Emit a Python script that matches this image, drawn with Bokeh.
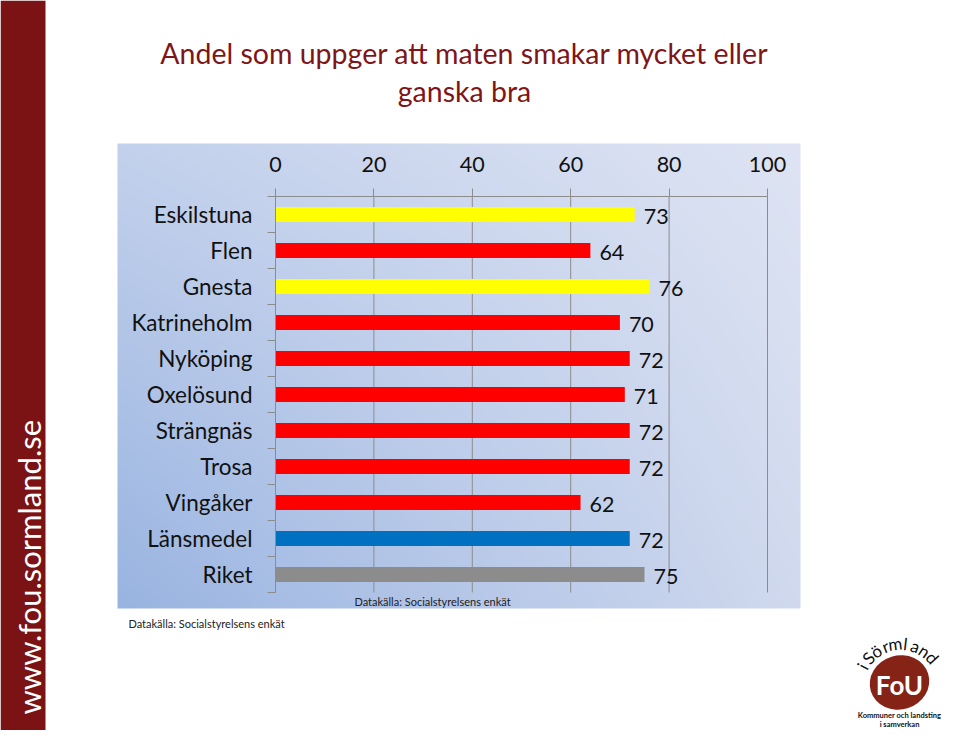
import numpy as np
from bokeh.plotting import figure
from bokeh.models import Range1d, LinearAxis, FixedTicker
from bokeh.core.properties import value
from bokeh.embed import file_html
from bokeh.resources import INLINE

# ---------------- data ----------------
title_lines = ["Andel som uppger att maten smakar mycket eller", "ganska bra"]
categories = ["Eskilstuna", "Flen", "Gnesta", "Katrineholm", "Nyköping", "Oxelösund",
              "Strängnäs", "Trosa", "Vingåker", "Länsmedel", "Riket"]
values = [73, 64, 76, 70, 72, 71, 72, 72, 62, 72, 75]
bar_colors = ["#ffff00", "#ff0000", "#ffff00", "#ff0000", "#ff0000", "#ff0000",
              "#ff0000", "#ff0000", "#ff0000", "#0070c0", "#8c8c8c"]
x_ticks = [0, 20, 40, 60, 80, 100]
source_note = "Datakälla: Socialstyrelsens enkät"
site_url = "www.fou.sormland.se"
logo_arc_text = "iSörmland"
logo_main = "FoU"
logo_sub = ["Kommuner och landsting", "i samverkan"]

# ---------------- layout (reference pixel coords) ----------------
W, H = 944, 730
FONT = "Lato"
PAGE_L, PAGE_T = 0, 0
X0_REF, X100_REF = 275, 767
YTOP_REF, YBOT_REF = 196, 592
n = len(categories)
ppu = (X100_REF - X0_REF) / 100.0
row = (YBOT_REF - YTOP_REF) / n

x_start = (PAGE_L - X0_REF) / ppu
x_end = (PAGE_L + W - X0_REF) / ppu
y_start = -0.5 - (PAGE_T + H - YBOT_REF) / row
y_end = n - 0.5 + (YTOP_REF - PAGE_T) / row


def Y(r):
    return 746 - r


p = figure(width=W, height=H, output_backend="svg", toolbar_location=None,
           x_range=Range1d(x_start, x_end), y_range=Range1d(y_start, y_end),
           x_axis_type=None, y_axis_type=None, min_border=0,
           outline_line_color=None, background_fill_color="white",
           border_fill_color="white")
p.extra_x_ranges = {"px": Range1d(PAGE_L, PAGE_L + W)}
p.extra_y_ranges = {"py": Range1d(Y(PAGE_T + H), Y(PAGE_T))}
p.grid.visible = False

# gradient background of chart area
gx0, gx1, gt, gb = 117, 800, 143, 608
gw, gh = (gx1 - gx0) // 2, (gb - gt) // 2
u = np.linspace(0, 1, gw)[None, :]
v = np.linspace(0, 1, gh)[:, None]
BL = np.array([153, 180, 225]); BR = np.array([208, 217, 238])
TL = np.array([195, 209, 236]); TR = np.array([222, 228, 243])
img = np.empty((gh, gw), dtype=np.uint32)
view = img.view(dtype=np.uint8).reshape((gh, gw, 4))
for c in range(3):
    col = (BL[c] * (1 - u) * (1 - v) + BR[c] * u * (1 - v) + TL[c] * (1 - u) * v + TR[c] * u * v)
    view[:, :, c] = np.clip(col, 0, 255).astype(np.uint8)
view[:, :, 3] = 255
p.image_rgba(image=[img], x=gx0, y=Y(gb), dw=gx1 - gx0, dh=gb - gt,
             x_range_name="px", y_range_name="py")

# left sidebar
p.quad(left=0, right=45, bottom=Y(746), top=Y(0), fill_color="#7b1214",
       line_color=None, x_range_name="px", y_range_name="py")
p.text(x=[28], y=[Y(714)], text=[site_url], angle=np.pi / 2,
       text_font=value(FONT), text_font_size="31px", text_color="white",
       text_align="left", text_baseline="alphabetic",
       x_range_name="px", y_range_name="py")

# title
p.text(x=[464, 464], y=[Y(52), Y(90)], text=title_lines,
       text_font=value(FONT), text_font_size="28.5px", text_color="#7f1518",
       text_align="center", text_baseline="middle",
       x_range_name="px", y_range_name="py")

# gridlines
ypos = [n - 1 - k for k in range(n)]
p.segment(x0=x_ticks[1:], y0=-0.5, x1=x_ticks[1:], y1=n - 0.5,
          line_color="#8c8c8c", line_width=1)

# bars
p.hbar(y=ypos, left=0, right=values, height=0.42, fill_color=bar_colors,
       line_color=None)
p.text(x=values, y=ypos, text=[str(v) for v in values], x_offset=9, y_offset=2,
       text_font=value(FONT), text_font_size="21.5px", text_color="#111111",
       text_align="left", text_baseline="middle")

# axes
top_axis = LinearAxis(ticker=FixedTicker(ticks=x_ticks), bounds=(0, 100),
                      fixed_location=n - 0.5,
                      axis_line_color="#8c8c8c", major_tick_line_color="#8c8c8c",
                      major_tick_out=8, major_tick_in=0, minor_tick_line_color=None,
                      major_label_text_font=FONT, major_label_text_font_size="21.5px",
                      major_label_text_color="#111111", major_label_standoff=17)
p.add_layout(top_axis, "above")

tick_axis = LinearAxis(ticker=FixedTicker(ticks=[k - 0.5 for k in range(n + 1)]),
                       bounds=(-0.5, n - 0.5), fixed_location=0,
                       axis_line_color="#8c8c8c", major_tick_line_color="#8c8c8c",
                       major_tick_out=8, major_tick_in=0, minor_tick_line_color=None,
                       major_label_text_color=None)
p.add_layout(tick_axis, "left")

label_axis = LinearAxis(ticker=FixedTicker(ticks=ypos), fixed_location=0,
                        major_label_overrides={n - 1 - k: categories[k] for k in range(n)},
                        axis_line_color=None, major_tick_line_color=None,
                        minor_tick_line_color=None, major_tick_out=0, major_tick_in=0,
                        major_label_text_font=FONT, major_label_text_font_size="22.5px",
                        major_label_text_color="#111111", major_label_standoff=23)
p.add_layout(label_axis, "left")

# source notes
p.text(x=[432], y=[Y(601)], text=[source_note], text_font=value(FONT),
       text_font_size="11px", text_color="#222222", text_align="center",
       text_baseline="middle", x_range_name="px", y_range_name="py")
p.text(x=[128], y=[Y(623)], text=[source_note], text_font=value(FONT),
       text_font_size="11px", text_color="#222222", text_align="left",
       text_baseline="middle", x_range_name="px", y_range_name="py")

# logo
lx, ly = 899, 682
p.ellipse(x=[lx], y=[Y(ly)], width=60, height=54, angle=0.3,
          fill_color="#862317", line_color=None, x_range_name="px", y_range_name="py")
p.text(x=[lx], y=[Y(ly + 2)], text=[logo_main], text_font=value(FONT),
       text_font_size="26px", text_font_style="bold", text_color="white",
       text_align="center", text_baseline="middle", x_range_name="px", y_range_name="py")
cx, cy, rad = lx + 1, ly + 4, 43
nch = len(logo_arc_text)
angs = np.linspace(np.deg2rad(152), np.deg2rad(42), nch)
p.text(x=cx + rad * np.cos(angs), y=Y(cy) + rad * np.sin(angs), text=list(logo_arc_text),
       angle=angs - np.pi / 2, text_font=value(FONT), text_font_size="17px",
       text_color="#111111", text_align="center", text_baseline="alphabetic",
       x_range_name="px", y_range_name="py")
p.text(x=[lx, lx], y=[Y(ly + 33), Y(ly + 42)], text=logo_sub, text_font=value(FONT),
       text_font_size="7.5px", text_font_style="bold", text_color="#111111",
       text_align="center", text_baseline="middle", x_range_name="px", y_range_name="py")

open("out.html", "w").write(file_html(p, INLINE))
